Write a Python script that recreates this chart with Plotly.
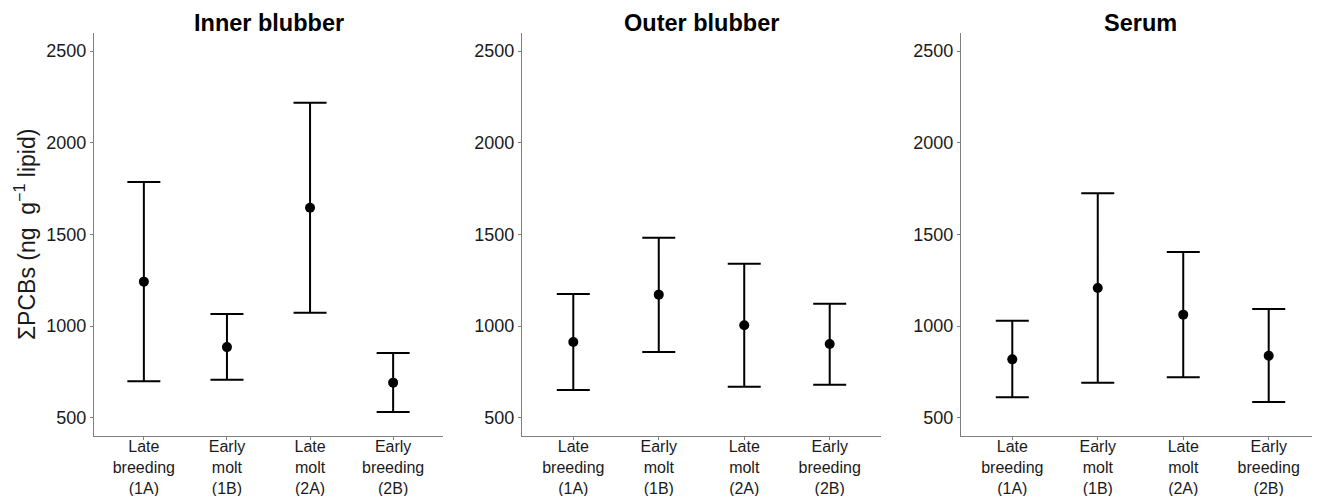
import plotly.graph_objects as go

categories = ["Late<br>breeding<br>(1A)", "Early<br>molt<br>(1B)", "Late<br>molt<br>(2A)", "Early<br>breeding<br>(2B)"]
panels = ["Inner blubber", "Outer blubber", "Serum"]

inner_mean = [1242, 885, 1645, 691]
inner_upper = [1785, 1065, 2218, 853]
inner_lower = [698, 707, 1073, 531]

outer_mean = [913, 1171, 1004, 902]
outer_upper = [1175, 1482, 1340, 1122]
outer_lower = [651, 858, 669, 680]

serum_mean = [818, 1207, 1062, 838]
serum_upper = [1029, 1724, 1404, 1093]
serum_lower = [611, 691, 720, 585]

yticks = [500, 1000, 1500, 2000, 2500]

data = [
    (inner_mean, inner_upper, inner_lower),
    (outer_mean, outer_upper, outer_lower),
    (serum_mean, serum_upper, serum_lower),
]

# page body has an 8px margin, so the figure starts at (8, 8) on screen
W, H = 1312, 488
x_domains = [(86 / W, 435 / W), (514 / W, 873 / W), (953 / W, 1.0)]
y_domain = (60 / H, (H - 24.7) / H)

fig = go.Figure()
for i, (m, up, lo) in enumerate(data):
    ax = "" if i == 0 else str(i + 1)
    fig.add_trace(go.Scatter(
        x=categories, y=m, mode="markers",
        marker=dict(color="black", size=10),
        error_y=dict(type="data", symmetric=False,
                     array=[u - v for u, v in zip(up, m)],
                     arrayminus=[v - l for v, l in zip(m, lo)],
                     color="black", thickness=2, width=16.5),
        xaxis="x" + ax, yaxis="y" + ax, showlegend=False,
    ))
    xa = dict(domain=list(x_domains[i]), anchor="y" + ax, automargin=False,
              type="category", categoryorder="array", categoryarray=categories,
              range=[-0.6, 3.6], showline=True, linecolor="#7f7f7f", linewidth=1.2,
              ticks="outside", ticklen=3, tickcolor="#7f7f7f", ticklabelstandoff=-7,
              tickfont=dict(family="Liberation Sans, Arial", size=16, color="#1a1a1a"),
              showgrid=False, zeroline=False, fixedrange=True)
    ya = dict(domain=list(y_domain), anchor="x" + ax, range=[400, 2600], automargin=False,
              tickvals=yticks, ticktext=[str(t) for t in yticks],
              showline=True, linecolor="#7f7f7f", linewidth=1.2,
              ticks="outside", ticklen=3, tickcolor="#7f7f7f",
              tickfont=dict(family="Liberation Sans, Arial", size=18, color="#1a1a1a"),
              showgrid=False, zeroline=False, fixedrange=True)
    if i == 0:
        ya["title"] = dict(text="ΣPCBs (ng  g<sup>−1</sup> lipid)",
                           font=dict(family="Liberation Sans, Arial", size=23, color="#1a1a1a"),
                           standoff=4)
    fig.update_layout(**{"xaxis" + ax: xa, "yaxis" + ax: ya})
    fig.add_annotation(text="<b>" + panels[i] + "</b>", xref="paper", yref="paper",
                       x=(x_domains[i][0] + x_domains[i][1]) / 2, y=1 - 15 / H,
                       xanchor="center", yanchor="middle", showarrow=False,
                       font=dict(family="Liberation Sans, Arial", size=23.5, color="black"))

fig.update_layout(width=W, height=H, margin=dict(l=0, r=0, t=0, b=0),
                  plot_bgcolor="white", paper_bgcolor="white")
fig.write_html("out.html")
